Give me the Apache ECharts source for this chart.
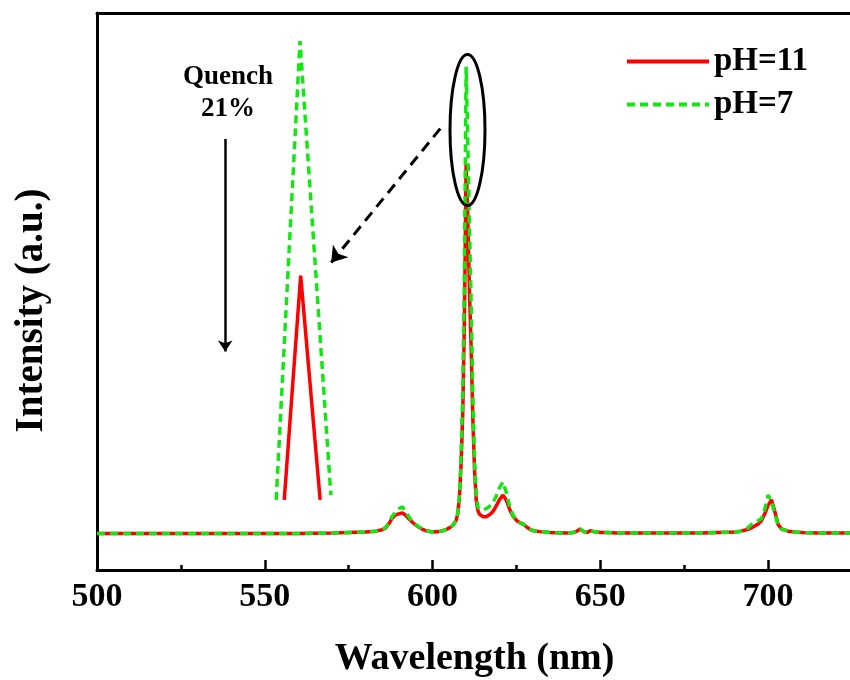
<!DOCTYPE html>
<html>
<head>
<meta charset="utf-8">
<script src="https://cdn.jsdelivr.net/npm/echarts@6/dist/echarts.min.js"></script>
<style>
  html, body { margin: 0; padding: 0; background: #fff; }
  #chart { width: 850px; height: 680px; }
</style>
</head>
<body>
<div id="chart"></div>
<script>
  // 发射光谱 (pH=7 主峰归一化为 1)
  const wavelength = [
    500, 510, 520, 530, 540, 550, 560, 570, 575, 580,
    583, 585, 586, 587, 588, 589, 590, 591, 592, 593,
    594, 595, 596, 597, 598, 600, 602, 604, 605, 606,
    607, 607.5, 608, 608.5, 609, 609.5, 610, 610.5, 611, 611.5,
    612, 612.5, 613, 613.5, 614, 615, 616, 617, 618, 619,
    620, 621, 622, 623, 624, 625, 626, 627, 628, 629,
    630, 632, 635, 640, 642, 643, 644, 645, 646, 647,
    648, 649, 650, 652, 655, 660, 670, 680, 685, 690,
    692, 694, 695, 696, 697, 698, 699, 700, 701, 702,
    703, 704, 706, 708, 710, 715, 720, 725
  ]
  const ph11 = [
    0.003, 0.003, 0.003, 0.003, 0.003, 0.003, 0.003, 0.004, 0.005, 0.006,
    0.008, 0.011, 0.015, 0.024, 0.036, 0.043, 0.045, 0.047, 0.042, 0.034,
    0.027, 0.021, 0.016, 0.012, 0.009, 0.006, 0.007, 0.011, 0.015, 0.020,
    0.030, 0.045, 0.080, 0.150, 0.260, 0.460, 0.793, 0.680, 0.520, 0.400,
    0.250, 0.140, 0.075, 0.052, 0.044, 0.039, 0.039, 0.043, 0.050, 0.062,
    0.076, 0.085, 0.074, 0.054, 0.040, 0.031, 0.026, 0.023, 0.017, 0.012,
    0.009, 0.007, 0.005, 0.004, 0.005, 0.008, 0.012, 0.007, 0.005, 0.009,
    0.007, 0.006, 0.005, 0.005, 0.004, 0.004, 0.004, 0.004, 0.005, 0.006,
    0.008, 0.012, 0.015, 0.019, 0.023, 0.030, 0.045, 0.063, 0.075, 0.050,
    0.022, 0.013, 0.008, 0.006, 0.005, 0.004, 0.004, 0.004
  ]
  const ph7 = [
    0.003, 0.003, 0.003, 0.003, 0.003, 0.003, 0.003, 0.004, 0.005, 0.006,
    0.008, 0.011, 0.016, 0.026, 0.040, 0.048, 0.056, 0.060, 0.050, 0.038,
    0.028, 0.022, 0.017, 0.012, 0.009, 0.006, 0.007, 0.011, 0.015, 0.020,
    0.030, 0.046, 0.085, 0.170, 0.310, 0.570, 1.000, 0.840, 0.660, 0.500,
    0.300, 0.160, 0.085, 0.060, 0.055, 0.054, 0.056, 0.061, 0.069, 0.083,
    0.102, 0.113, 0.090, 0.060, 0.042, 0.032, 0.026, 0.023, 0.017, 0.012,
    0.009, 0.007, 0.005, 0.004, 0.005, 0.008, 0.013, 0.007, 0.006, 0.010,
    0.007, 0.006, 0.005, 0.005, 0.004, 0.004, 0.004, 0.004, 0.005, 0.006,
    0.008, 0.015, 0.022, 0.027, 0.030, 0.035, 0.055, 0.085, 0.070, 0.045,
    0.020, 0.012, 0.008, 0.006, 0.005, 0.004, 0.004, 0.004
  ]
  // 放大的 610 nm 峰 (插图)
  const insetWl7 = [553.4, 560.5, 569.7]
  const inset7 = [0.075, 1.055, 0.085]
  const insetWl11 = [555.8, 560.7, 566.5]
  const inset11 = [0.075, 0.554, 0.075]
  const xTicks = [500, 550, 600, 650, 700]

  const zip = (xs, ys) => xs.map((x, i) => [x, ys[i]])
  const serif = "'Liberation Serif', 'Times New Roman', serif"
  const red = '#ff0000'
  const green = '#14e614'

  let option = {
    animation: false,
    backgroundColor: '#fff',
    grid: { left: 97, right: -2, top: 13, bottom: 110, outerBoundsMode: 'none' },
    legend: {
      data: ['pH=11', 'pH=7'],
      orient: 'vertical',
      left: 620,
      top: 40,
      itemWidth: 82,
      itemHeight: 4,
      itemGap: 10,
      itemStyle: { opacity: 0 },
      lineStyle: { width: 4 },
      textStyle: { fontFamily: serif, fontWeight: 'bold', fontSize: 33, color: '#000' }
    },
    xAxis: [
      {
        type: 'value',
        min: 500,
        max: 725,
        interval: 50,
        position: 'bottom',
        name: 'Wavelength (nm)',
        nameLocation: 'middle',
        nameGap: 70,
        nameTextStyle: { fontFamily: serif, fontWeight: 'bold', fontSize: 38, color: '#000' },
        axisLine: { onZero: false, lineStyle: { color: '#000', width: 3 } },
        axisTick: { inside: true, length: 10, lineStyle: { color: '#000', width: 2.5 } },
        axisLabel: {
          margin: 10,
          showMaxLabel: false,
          fontFamily: serif, fontWeight: 'bold', fontSize: 34, color: '#000',
          formatter: v => xTicks.includes(v) ? String(v) : ''
        },
        splitLine: { show: false }
      },
      {
        type: 'value',
        min: 500,
        max: 725,
        position: 'top',
        axisLine: { onZero: false, lineStyle: { color: '#000', width: 3 } },
        axisTick: { show: false },
        axisLabel: { show: false },
        splitLine: { show: false }
      },
      {
        type: 'value',
        min: 500,
        max: 725,
        interval: 25,
        position: 'bottom',
        axisLine: { show: false, onZero: false },
        axisTick: { inside: true, length: 5, lineStyle: { color: '#000', width: 2.5 } },
        axisLabel: { show: false },
        splitLine: { show: false }
      }
    ],
    yAxis: {
      type: 'value',
      min: -0.075,
      max: 1.115,
      name: 'Intensity (a.u.)',
      nameLocation: 'middle',
      nameGap: 46,
      nameTextStyle: { fontFamily: serif, fontWeight: 'bold', fontSize: 39, color: '#000', padding: [0, 38, 0, 0] },
      axisLine: { show: true, onZero: false, lineStyle: { color: '#000', width: 3 } },
      axisTick: { show: false },
      axisLabel: { show: false },
      splitLine: { show: false }
    },
    series: [
      {
        name: 'pH=11',
        type: 'line',
        symbol: 'none',
        data: zip(wavelength, ph11),
        lineStyle: { color: red, width: 3.5 },
        itemStyle: { color: red }
      },
      {
        name: 'pH=7',
        type: 'line',
        symbol: 'none',
        data: zip(wavelength, ph7),
        lineStyle: { color: green, width: 3.5, type: [8, 5] },
        itemStyle: { color: green }
      },
      {
        name: 'inset11',
        type: 'line',
        symbol: 'none',
        data: zip(insetWl11, inset11),
        lineStyle: { color: red, width: 3.5 }
      },
      {
        name: 'inset7',
        type: 'line',
        symbol: 'none',
        data: zip(insetWl7, inset7),
        lineStyle: { color: green, width: 3.5, type: [8, 5] }
      },
      {
        // Quench 箭头
        type: 'lines',
        coordinateSystem: 'cartesian2d',
        symbol: ['none', 'arrow'],
        symbolSize: 11,
        lineStyle: { color: '#000', width: 2.5, opacity: 1 },
        data: [{ coords: [[538.2, 0.846], [538.2, 0.392]] }]
      },
      {
        // 指向插图的虚线箭头
        type: 'lines',
        coordinateSystem: 'cartesian2d',
        symbol: ['none', 'arrow'],
        symbolSize: 15,
        lineStyle: { color: '#000', width: 3, type: [11, 7], opacity: 1 },
        data: [{ coords: [[602.3, 0.868], [569.8, 0.582]] }]
      }
    ],
    graphic: [
      {
        type: 'ellipse',
        z: 100,
        shape: { cx: 467.5, cy: 130, rx: 17.5, ry: 75.5 },
        style: { fill: 'none', stroke: '#000', lineWidth: 3 }
      },
      {
        type: 'text',
        x: 228,
        y: 77,
        style: { text: 'Quench', font: 'bold 27px ' + serif, fill: '#000', align: 'center', verticalAlign: 'middle' }
      },
      {
        type: 'text',
        x: 228,
        y: 109,
        style: { text: '21%', font: 'bold 27px ' + serif, fill: '#000', align: 'center', verticalAlign: 'middle' }
      }
    ]
  }

  let chart = echarts.init(document.getElementById('chart'))
  chart.setOption(option)
</script>
</body>
</html>
